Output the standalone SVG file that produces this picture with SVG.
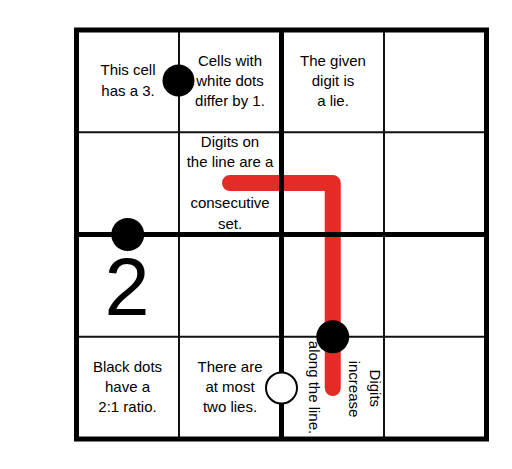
<svg xmlns="http://www.w3.org/2000/svg" width="512" height="469" viewBox="0 0 512 469">
<style>
.thin{stroke:#111;stroke-width:2;fill:none}
.thick{stroke:#000;stroke-width:5;fill:none}
.t{font-family:"Liberation Sans",Arial,sans-serif;font-size:15px;fill:#000;text-anchor:middle}
.big{font-family:"Liberation Sans",Arial,sans-serif;font-size:81px;fill:#000;text-anchor:middle}
.bdot{fill:#000}
.wdot{fill:#fff;stroke:#000;stroke-width:2}
</style>
<rect width="512" height="469" fill="#fff"/>
<g id="renban-line">
<path d="M230 183 H332.75 V388" fill="none" stroke="#e62a26" stroke-width="16" stroke-linecap="round" stroke-linejoin="round"/>
</g>
<g id="grid">
<path class="thin" d="M179 30 V439 M384 30 V439 M76.5 132.25 H486.5 M76.5 336.75 H486.5"/>
<path class="thick" d="M281.5 30 V439 M76.5 234.5 H486.5"/>
<rect class="thick" x="76.5" y="30" width="410" height="409"/>
</g>
<g id="cell-r1c1">
<text class="t" x="128" y="74.5">This cell</text>
<text class="t" x="128" y="95.5">has a 3.</text>
</g>
<g id="cell-r1c2">
<text class="t" x="230" y="65.7">Cells with</text>
<text class="t" x="230" y="85.7">white dots</text>
<text class="t" x="230" y="105.7">differ by 1.</text>
</g>
<g id="cell-r1c3">
<text class="t" x="333" y="65.5">The given</text>
<text class="t" x="333" y="85.5">digit is</text>
<text class="t" x="333" y="105.5">a lie.</text>
</g>
<g id="cell-r2c2">
<text class="t" x="230" y="147.3">Digits on</text>
<text class="t" x="230" y="167.3">the line are a</text>
<text class="t" x="230" y="208.3">consecutive</text>
<text class="t" x="230" y="229">set.</text>
</g>
<g id="cell-r3c1">
<text class="big" x="127" y="315">2</text>
</g>
<g id="cell-r4c1">
<text class="t" x="127.5" y="372.3">Black dots</text>
<text class="t" x="127.5" y="392.3">have a</text>
<text class="t" x="127.5" y="412.3">2:1 ratio.</text>
</g>
<g id="cell-r4c2">
<text class="t" x="230" y="372.3">There are</text>
<text class="t" x="230" y="392.3">at most</text>
<text class="t" x="230" y="412.3">two lies.</text>
</g>
<g id="cell-r4c3">
<text class="t" transform="translate(369.5 388.3) rotate(90)" x="0" y="0">Digits</text>
<text class="t" transform="translate(349 389) rotate(90)" x="0" y="0">increase</text>
<text class="t" transform="translate(308.5 387.5) rotate(90)" x="0" y="0">along the line.</text>
</g>
<g id="dots">
<circle id="dot-black-1" class="bdot" cx="178.5" cy="80.5" r="16"/>
<circle id="dot-black-2" class="bdot" cx="127.75" cy="234.5" r="16.5"/>
<circle id="dot-black-3" class="bdot" cx="332.75" cy="336.75" r="16.5"/>
<circle id="dot-white-1" class="wdot" cx="281.5" cy="388" r="15.5"/>
</g>
</svg>
